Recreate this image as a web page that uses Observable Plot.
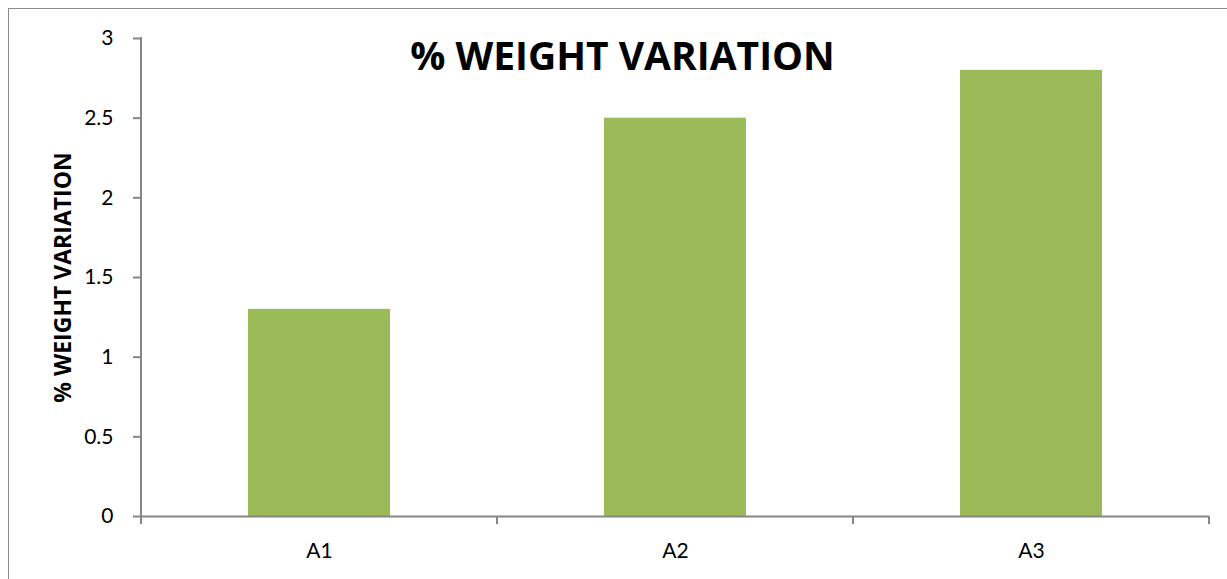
<!DOCTYPE html>
<html>
<head>
<meta charset="utf-8">
<script src="https://cdn.jsdelivr.net/npm/d3@7"></script>
<script src="https://cdn.jsdelivr.net/npm/@observablehq/plot@0.6"></script>
<style>
  html, body { margin: 0; padding: 0; background: #fff; overflow: hidden; }
  #wrap { position: relative; width: 1227px; height: 579px; }
  #frame { position: absolute; left: 8px; top: 8px; width: 1240px; height: 600px;
           border: 1px solid #8c8c8c; box-sizing: border-box; pointer-events: none; }
</style>
</head>
<body>
<div id="wrap"><div id="frame"></div></div>
<script>
// Chart content
const title = "% WEIGHT VARIATION";
const yLabel = "% WEIGHT VARIATION";
const categories = ["A1", "A2", "A3"];
const values = [1.3, 2.5, 2.8];
const yTicks = [0, 0.5, 1, 1.5, 2, 2.5, 3];

const data = categories.map((c, i) => ({category: c, value: values[i]}));

const axisColor = "#868686";
const barColor = "#9BBB59";
const boldFont = "'Open Sans', Lato, sans-serif";

// Vertical axis line plus ticks on the boundaries between categories
function axisLines(index, scales, values, dims) {
  const n = categories.length;
  const left = dims.marginLeft;
  const step = (dims.width - dims.marginLeft - dims.marginRight) / n;
  const edges = d3.range(n + 1).map(i => left + i * step);
  const y0 = scales.y(0);
  const yTop = scales.y(yTicks[yTicks.length - 1]);
  const g = d3.create("svg:g").attr("stroke", axisColor).attr("stroke-width", 2);
  g.append("line")
    .attr("x1", edges[0]).attr("x2", edges[0])
    .attr("y1", yTop - 1).attr("y2", y0 + 8);
  g.selectAll("line.edge").data(edges).join("line").attr("class", "edge")
    .attr("x1", d => d).attr("x2", d => d)
    .attr("y1", y0).attr("y2", y0 + 8);
  return g.node();
}

const chart = Plot.plot({
  width: 1227,
  height: 579,
  marginLeft: 141,
  marginRight: 18,
  marginTop: 38,
  marginBottom: 63,
  style: {fontFamily: "Lato, 'Open Sans', sans-serif", background: "transparent", overflow: "visible"},
  x: {domain: categories, paddingInner: 0.6, paddingOuter: 0.3, label: null},
  y: {domain: [0, 3], label: null},
  marks: [
    Plot.barY(data, {x: "category", y: "value", fill: barColor}),
    Plot.ruleY([0], {stroke: axisColor, strokeWidth: 2}),
    Plot.axisY({ticks: yTicks, tickSize: 8, tickPadding: 20, tickFormat: d => String(d),
      fontSize: 21, stroke: axisColor, strokeWidth: 2, color: "#000", label: null}),
    Plot.axisX({tickSize: 0, tickPadding: 27, fontSize: 21, color: "#000", label: null}),
    axisLines,
    Plot.text([yLabel], {frameAnchor: "left", rotate: -90, dx: -78, fontSize: 23,
      textAnchor: "middle", lineAnchor: "middle",
      fontWeight: "bold", fontFamily: boldFont, fill: "#000"}),
    Plot.text([title], {frameAnchor: "top", dx: -53, dy: 19, fontSize: 39,
      textAnchor: "middle", lineAnchor: "middle",
      fontWeight: "bold", fontFamily: boldFont, fill: "#000"})
  ]
});

document.getElementById("wrap").prepend(chart);
</script>
</body>
</html>
